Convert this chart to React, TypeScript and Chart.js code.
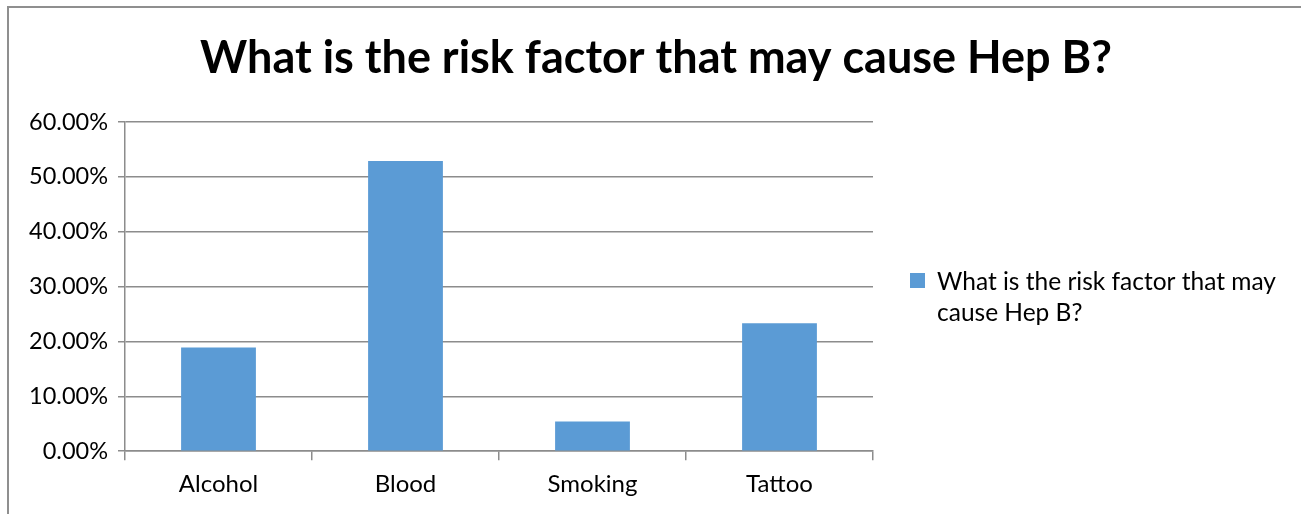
import React, { useEffect, useRef } from "react";
import { Chart, registerables } from "chart.js";

Chart.register(...registerables);

const categories = ["Alcohol", "Blood", "Smoking", "Tattoo"];
const values = [18.9, 52.9, 5.4, 23.3];
const seriesLabel = "What is the risk factor that may cause Hep B?";
const legendLines = ["What is the risk factor that may", "cause Hep B?"];
const titleText = "What is the risk factor that may cause Hep B?";

const FONT = "Lato, 'Open Sans', sans-serif";
const BAR = "#5B9BD5";
const GRID = "#8c8c8c";

const framePlugin = {
  id: "frame",
  beforeDraw(chart: any) {
    const ctx = chart.ctx;
    ctx.save();
    ctx.fillStyle = "#ffffff";
    ctx.fillRect(0, 0, chart.width, chart.height);
    ctx.strokeStyle = "#8f8f8f";
    ctx.lineWidth = 2;
    ctx.beginPath();
    ctx.moveTo(8, chart.height);
    ctx.lineTo(8, 7);
    ctx.lineTo(chart.width, 7);
    ctx.stroke();
    ctx.restore();
  },
};

const titlePlugin = {
  id: "centerTitle",
  afterDraw(chart: any) {
    const ctx = chart.ctx;
    ctx.save();
    ctx.fillStyle = "#000000";
    ctx.font = `bold 45px ${FONT}`;
    ctx.textAlign = "center";
    ctx.textBaseline = "middle";
    ctx.fillText(titleText, 656, 58);
    ctx.restore();
  },
};

const legendPlugin = {
  id: "sideLegend",
  afterDraw(chart: any) {
    const ctx = chart.ctx;
    const ds = chart.data.datasets[0];
    ctx.save();
    ctx.fillStyle = ds.backgroundColor;
    ctx.fillRect(910, 273, 15, 15);
    ctx.fillStyle = "#000000";
    ctx.font = `24.5px ${FONT}`;
    ctx.textBaseline = "middle";
    ctx.textAlign = "left";
    legendLines.forEach((l, i) => ctx.fillText(l, 937, 282 + i * 31));
    ctx.restore();
  },
};

export default function App() {
  const ref = useRef<HTMLCanvasElement | null>(null);
  useEffect(() => {
    document.body.style.margin = "0";
    const chart = new Chart(ref.current!, {
      type: "bar",
      data: {
        labels: categories,
        datasets: [
          {
            label: seriesLabel,
            data: values,
            backgroundColor: BAR,
            categoryPercentage: 1,
            barPercentage: 0.4,
          },
        ],
      },
      options: {
        animation: false,
        responsive: false,
        maintainAspectRatio: false,
        layout: { padding: { top: 122, right: 428, bottom: 5, left: 0 } },
        plugins: {
          legend: { display: false },
          tooltip: { enabled: false },
          title: { display: false },
        },
        scales: {
          x: {
            grid: {
              offset: true,
              drawOnChartArea: false,
              drawTicks: true,
              tickLength: 9,
              color: GRID,
              lineWidth: 1.5,
            },
            border: { color: GRID, width: 1.5 },
            ticks: {
              color: "#000000",
              font: { family: FONT, size: 24 },
              padding: 10,
            },
          },
          y: {
            min: 0,
            max: 60,
            afterFit: (s: any) => {
              s.width = 125;
            },
            grid: {
              color: GRID,
              lineWidth: 1.5,
              tickLength: 7,
            },
            border: { color: GRID, width: 1.5 },
            ticks: {
              stepSize: 10,
              color: "#000000",
              font: { family: FONT, size: 23.5 },
              padding: 10,
              callback: (v: any) => Number(v).toFixed(2) + "%",
            },
          },
        },
      },
      plugins: [framePlugin, titlePlugin, legendPlugin],
    });
    return () => chart.destroy();
  }, []);
  return (
    <div style={{ width: 1301, height: 514 }}>
      <canvas ref={ref} width={1301} height={514} style={{ display: "block" }} />
    </div>
  );
}
